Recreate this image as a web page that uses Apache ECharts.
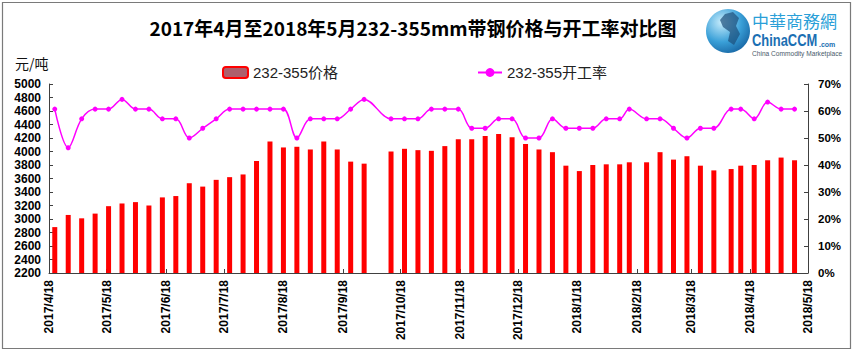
<!DOCTYPE html>
<html><head><meta charset="utf-8">
<script src="https://cdn.jsdelivr.net/npm/echarts@6/dist/echarts.min.js"></script>
<style>html,body{margin:0;padding:0;background:#fff}#c{width:855px;height:353px}</style>
</head><body><div id="c"></div>
<script>
// ---- data ----
const titleText = '2017年4月至2018年5月232-355mm带钢价格与开工率对比图';
const priceName = '232-355价格';
const rateName = '232-355开工率';
const unitLabel = '元/吨';
const dates = [
 '2017-04-21','2017-04-28','2017-05-05','2017-05-12','2017-05-19','2017-05-26','2017-06-02','2017-06-09',
 '2017-06-16','2017-06-23','2017-06-30','2017-07-07','2017-07-14','2017-07-21','2017-07-28','2017-08-04',
 '2017-08-11','2017-08-18','2017-08-25','2017-09-01','2017-09-08','2017-09-15','2017-09-22','2017-09-29',
 '2017-10-13','2017-10-20','2017-10-27','2017-11-03','2017-11-10','2017-11-17','2017-11-24','2017-12-01',
 '2017-12-08','2017-12-15','2017-12-22','2017-12-29','2018-01-05','2018-01-12','2018-01-19','2018-01-26',
 '2018-02-02','2018-02-09','2018-02-14',
 '2018-02-23','2018-03-02','2018-03-09','2018-03-16','2018-03-23','2018-03-30',
 '2018-04-08','2018-04-13','2018-04-20','2018-04-27','2018-05-04','2018-05-11'
];
const prices = [
 2880,3060,3010,3080,3190,3230,3250,3200,3320,3340,3530,3480,3580,3620,3660,3860,
 4150,4060,4070,4030,4150,4030,3850,3820,
 4000,4040,4020,4010,4080,4180,4180,4230,4260,4210,4110,4030,3990,3790,3710,3800,
 3810,3810,3840,
 3840,3990,3880,3930,3790,3720,
 3740,3790,3800,3870,3910,3870
];
const rates = [
 60.7,46.4,57.1,60.7,60.7,64.3,60.7,60.7,57.1,57.1,50.0,53.6,57.1,60.7,60.7,60.7,
 60.7,60.7,50.0,57.1,57.1,57.1,60.7,64.3,
 57.1,57.1,57.1,60.7,60.7,60.7,53.6,53.6,57.1,57.1,50.0,50.0,57.1,53.6,53.6,53.6,
 57.1,57.1,60.7,
 57.1,57.1,53.6,50.0,53.6,53.6,
 60.7,60.7,57.1,63.3,60.7,60.7
];
const xTickDates = ['2017-04-18','2017-05-18','2017-06-18','2017-07-18','2017-08-18','2017-09-18','2017-10-18',
 '2017-11-18','2017-12-18','2018-01-18','2018-02-18','2018-03-18','2018-04-18','2018-05-18'];
const priceAxis = {min:2200, max:5000, step:200};
const rateAxis = {min:0, max:70, step:10};

// ---- chart ----
const DAY = 86400000;
function utc(s){const p=s.split('-');return Date.UTC(+p[0],+p[1]-1,+p[2]);}
const origin = utc(xTickDates[0]);
function dayOf(s){return Math.round((utc(s)-origin)/DAY);}
function fmt(v){const d=new Date(origin+Math.round(v)*DAY);return d.getUTCFullYear()+'/'+(d.getUTCMonth()+1)+'/'+d.getUTCDate();}
const tickDays = xTickDates.map(dayOf);
const FONT = '"Liberation Sans", Arial, "Noto Sans CJK SC", sans-serif';
const chart = echarts.init(document.getElementById('c'), null, {renderer:'svg'});
const axisLineStyle = {color:'#404040', width:1};
chart.setOption({
  animation:false,
  backgroundColor:'#fff',
  grid:{left:49, right:47, top:84, bottom:80, containLabel:false},
  legend:[
    {data:[{name:priceName, itemStyle:{color:'#ad5f6c', borderColor:'#ff0000', borderWidth:2}}],
     left:217, top:60, itemWidth:25, itemHeight:11, itemGap:6,
     textStyle:{fontSize:15, color:'#222', fontFamily:FONT}},
    {data:[rateName], left:472, top:60, itemWidth:24, itemHeight:11,
     textStyle:{fontSize:15, color:'#222', fontFamily:FONT}}
  ],
  xAxis:{
    type:'value', min:0, max:tickDays[tickDays.length-1],
    axisLine:{lineStyle:axisLineStyle},
    axisTick:{show:true, inside:true, length:4, customValues:tickDays, lineStyle:{color:'#404040'}},
    axisLabel:{customValues:tickDays, rotate:90, margin:7, formatter:fmt, hideOverlap:false,
      fontSize:12, fontWeight:'bold', color:'#000', fontFamily:FONT},
    splitLine:{show:false}
  },
  yAxis:[
    {type:'value', min:priceAxis.min, max:priceAxis.max, interval:priceAxis.step,
     axisLine:{show:true, lineStyle:axisLineStyle},
     axisTick:{show:true, inside:true, length:4, lineStyle:{color:'#404040'}},
     axisLabel:{fontSize:12, fontWeight:'bold', color:'#000', margin:8, fontFamily:FONT,
       formatter:v=>String(v)},
     splitLine:{show:false}},
    {type:'value', min:rateAxis.min, max:rateAxis.max, interval:rateAxis.step, position:'right',
     axisLine:{show:true, lineStyle:axisLineStyle},
     axisTick:{show:true, inside:true, length:4, lineStyle:{color:'#404040'}},
     axisLabel:{fontSize:11.5, fontWeight:'bold', color:'#000', margin:10, fontFamily:FONT,
       formatter:'{value}%'},
     splitLine:{show:false}}
  ],
  series:[
    {name:priceName, type:'bar', yAxisIndex:0, barWidth:5,
     itemStyle:{color:'#ff0000'},
     data:dates.map((d,i)=>[dayOf(d), prices[i]])},
    {name:rateName, type:'line', yAxisIndex:1, smooth:0.35,
     symbol:'circle', symbolSize:5, showSymbol:true,
     itemStyle:{color:'#ff00ff'}, lineStyle:{color:'#ff00ff', width:1.5},
     data:dates.map((d,i)=>[dayOf(d), rates[i]])}
  ],
  graphic:[
    {type:'rect', shape:{x:2.5, y:2.5, width:848, height:346}, silent:true,
     style:{fill:'none', stroke:'#7a7a7a', lineWidth:1.2}, z:-1},
    {type:'text', x:413, y:27, silent:true,
     style:{text:titleText, align:'center', verticalAlign:'middle',
       font:'bold 19px "Noto Sans CJK SC", "Liberation Sans", sans-serif', fill:'#000'}},
    {type:'text', x:15, y:63, silent:true,
     style:{text:unitLabel, verticalAlign:'middle',
       font:'14px "Noto Sans CJK SC", "Liberation Sans", sans-serif', fill:'#111'}},
    {type:'group', silent:true, children:[
      {type:'circle', shape:{cx:728, cy:31, r:22},
       style:{fill:new echarts.graphic.RadialGradient(0.35,0.3,0.9,[
         {offset:0,color:'#c6ecfc'},{offset:0.5,color:'#3aa0d8'},{offset:1,color:'#0a4f8f'}])}},
      {type:'polygon', shape:{points:[[725,14],[733,12],[739,18],[736,26],[740,34],[734,45],[728,41],[730,32],[723,27],[720,20]]},
       style:{fill:'#1d4f7a', opacity:0.7}},
      {type:'text', x:752, y:20, style:{text:'中華商務網', verticalAlign:'middle',
        font:'17px "Noto Sans CJK TC", "Noto Sans CJK SC", sans-serif', fill:'#2a9fd8'}},
      {type:'text', x:752, y:40, scaleX:0.76, style:{text:'ChinaCCM', verticalAlign:'middle',
        font:'bold 17px "Liberation Sans", sans-serif', fill:'#1b6fb3'}},
      {type:'text', x:819, y:44, style:{text:'.com', verticalAlign:'middle',
        font:'bold 7px "Liberation Sans", sans-serif', fill:'#1b6fb3'}},
      {type:'text', x:752, y:53, style:{text:'China Commodity Marketplace', verticalAlign:'middle',
        font:'6.6px "Liberation Sans", sans-serif', fill:'#4a5a6a'}}
    ]}
  ]
});
</script></body></html>
